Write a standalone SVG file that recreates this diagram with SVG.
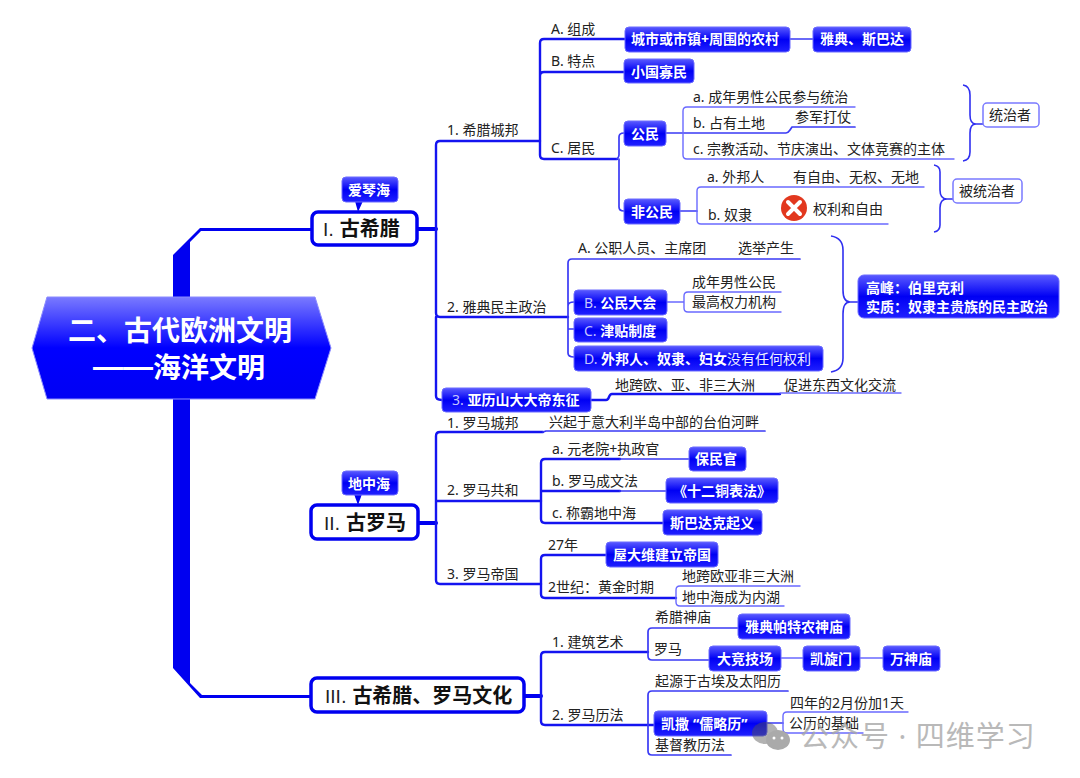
<svg xmlns="http://www.w3.org/2000/svg" width="1080" height="778" viewBox="0 0 1080 778">
<style>
text{font-family:"Noto Sans","Noto Sans CJK SC",sans-serif;font-size:14px;fill:#222}
.w{fill:#fff;font-weight:700}
.w .s{font-weight:400;fill:#c4c4ff}
.w .r{font-weight:400;fill:#eef}
.c{fill:url(#chip);stroke:#6a6aff;stroke-width:1}
.b{fill:#fff;stroke:#0000f0;stroke-width:3.5}
.o{fill:#fff;stroke:#7a7aff;stroke-width:1.5}
.h{font-size:20px;fill:#111;font-weight:700}
.h .s{font-family:"DejaVu Sans",sans-serif;font-weight:400;font-size:18px;fill:#222}
.tt{font-family:"Noto Sans CJK SC",sans-serif;font-size:28px;font-weight:700;fill:#fff}
.tt .d{font-family:"Liberation Sans",sans-serif;font-size:30px}
.l1,.l2,.l3,.l4{fill:none;stroke-linecap:round;stroke-linejoin:round}
.l1{stroke:#0000f0;stroke-width:4}
.l2{stroke:#1414f0;stroke-width:2.4}
.l3{stroke:#3a3af5;stroke-width:1.7}
.l4{stroke:#6a6aff;stroke-width:1.4}
.br{fill:none;stroke:#3030f0;stroke-width:1.6}
</style>
<defs>
<linearGradient id="chip" x1="0" y1="0" x2="0" y2="1"><stop offset="0" stop-color="#5a5aff"/><stop offset=".5" stop-color="#0000f4"/><stop offset="1" stop-color="#2020ff"/></linearGradient>
<linearGradient id="main" x1="0" y1="0" x2="0" y2="1"><stop offset="0" stop-color="#7a7aff"/><stop offset=".5" stop-color="#0000ff"/><stop offset="1" stop-color="#0000f4"/></linearGradient>
</defs>
<rect width="1080" height="778" fill="#fff"/>
<g id="connectors">
<path d="M173 255L200 228H313V231H201L190 242V683L202 695H313V698H200L173 668Z" fill="#0000f0"/>
<path class="l1" d="M417 229H436M418 523H436M524 696H541"/>
<path class="l2" d="M436 145Q436 141 440 141H540M436 145V313Q436 317 440 317H568M436 317V396Q436 400 442 400M436 436Q436 432 440 432H543M436 436V580Q436 584 440 584H541M436 501H541"/>
<path class="l3" d="M543 432L546 431H765"/>
<path class="l2" d="M540 43Q540 39 544 39H625M540 43V155Q540 159 544 159H617M540 76Q540 72 544 72H624"/>
<path class="l3" d="M790 39H813M617 159Q619 157 619 155V137Q619 133 624 133M619 159V207Q619 211 624 211"/>
<path class="l3" d="M666 133H786Q788 133 790 130L792 127H855"/>
<path class="l4" d="M683 133V111Q683 107 687 107H855M683 133V155Q683 159 687 159H954"/>
<path class="l3" d="M680 211H697"/>
<path class="l4" d="M697 211V191Q697 187 701 187H924M697 211V220Q697 224 701 224H888"/>
<path class="l3" d="M568 263Q568 259 572 259H800M568 263V353Q568 357 574 357M568 306Q568 302 574 302M568 329H574"/>
<path class="l4" d="M667 302H684M684 302V296Q684 292 688 292H781M684 302V308Q684 312 688 312H781"/>
<path class="l2" d="M591 400H606Q608 400 609 397Q610 394 612 394H780"/>
<path class="l4" d="M780 393H901"/>
<path class="l2" d="M541 501V463Q541 459 545 459H620M541 501V519Q541 523 545 523H664M541 491H620"/>
<path class="l3" d="M620 459H689M620 491H666"/>
<path class="l2" d="M541 584V559Q541 555 545 555H606M541 584V594Q541 598 545 598H676"/>
<path class="l4" d="M676 598V590Q676 586 680 586H800M676 598V602Q676 606 680 606H784"/>
<path class="l2" d="M541 696V656Q541 652 545 652H648M541 696V721Q541 725 545 725H654"/>
<path class="l3" d="M648 652V632Q648 628 652 628H739M648 652V656Q648 660 652 660H709M648 725V695Q648 691 652 691H788M648 725V751Q648 755 652 755H731"/>
<path class="l4" d="M781 658H803M860 658H883"/>
<path class="l3" d="M767 723H783"/>
<path class="l4" d="M783 723V716Q783 712 787 712H908M783 723V729Q783 733 787 733H863"/>
<path class="br" d="M963 85Q970 86 970 95V115Q970 124 976 124H983M976 124Q970 124 970 133V152Q970 160 963 161"/>
<path class="br" d="M934 165Q940 166 940 172V190Q940 199 947 199H953M947 199Q940 199 940 208V225Q940 231 934 232"/>
<path class="br" d="M831 236Q843 238 843 250V290Q843 302 850 302H858M850 302Q843 302 843 314V358Q843 370 831 372"/>
</g>
<g id="root"><polygon points="47,297 315,297 331,348 315,399 47,399 32,348" fill="url(#main)" stroke="#8a8aff" stroke-width="1"/><text class="tt" x="68" y="341">二、古代欧洲文明</text><text class="tt" x="93" y="378"><tspan class="d" dy="-1.5">——</tspan><tspan dy="1.5">海洋文明</tspan></text></g>
<g id="n1"><rect class="b" x="312" y="212" width="105" height="33" rx="6"/><text class="h" x="323" y="236"><tspan class="s">I. </tspan>古希腊</text></g>
<g id="n1note"><path d="M355 201L358 212L363 201Z" fill="#0000f0"/><rect class="c" x="342" y="177" width="56" height="25" rx="4"/><text class="w" x="348" y="195">爱琴海</text></g>
<g id="n2"><rect class="b" x="311" y="505" width="107" height="34" rx="6"/><text class="h" x="324" y="530"><tspan class="s">II. </tspan>古罗马</text></g>
<g id="n2note"><path d="M354 494L358 505L362 494Z" fill="#0000f0"/><rect class="c" x="342" y="471" width="56" height="24" rx="4"/><text class="w" x="348" y="489">地中海</text></g>
<g id="n3"><rect class="b" x="311" y="678" width="213" height="34" rx="6"/><text class="h" x="325" y="703"><tspan class="s">III. </tspan>古希腊、罗马文化</text></g>
<g id="labels">
<text x="447" y="135">1. 希腊城邦</text>
<text x="551" y="34">A. 组成</text>
<text x="551" y="66">B. 特点</text>
<text x="551" y="153">C. 居民</text>
<text x="693" y="102">a. 成年男性公民参与统治</text>
<text x="693" y="128">b. 占有土地</text>
<text x="795" y="122">参军打仗</text>
<text x="693" y="154">c. 宗教活动、节庆演出、文体竞赛的主体</text>
<text x="707" y="182">a. 外邦人</text>
<text x="793" y="182">有自由、无权、无地</text>
<text x="708" y="220">b. 奴隶</text>
<text x="813" y="214">权利和自由</text>
<text x="447" y="312">2. 雅典民主政治</text>
<text x="578" y="253">A. 公职人员、主席团</text>
<text x="738" y="253">选举产生</text>
<text x="692" y="287">成年男性公民</text>
<text x="692" y="307">最高权力机构</text>
<text x="615" y="390">地跨欧、亚、非三大洲</text>
<text x="784" y="390">促进东西文化交流</text>
<text x="447" y="428">1. 罗马城邦</text>
<text x="549" y="427">兴起于意大利半岛中部的台伯河畔</text>
<text x="447" y="495">2. 罗马共和</text>
<text x="552" y="454">a. 元老院+执政官</text>
<text x="552" y="486">b. 罗马成文法</text>
<text x="552" y="518">c. 称霸地中海</text>
<text x="447" y="579">3. 罗马帝国</text>
<text x="548" y="550">27年</text>
<text x="548" y="592">2世纪：黄金时期</text>
<text x="682" y="581">地跨欧亚非三大洲</text>
<text x="682" y="602">地中海成为内湖</text>
<text x="552" y="647">1. 建筑艺术</text>
<text x="655" y="622">希腊神庙</text>
<text x="654" y="654">罗马</text>
<text x="552" y="720">2. 罗马历法</text>
<text x="655" y="686">起源于古埃及太阳历</text>
<text x="790" y="708">四年的2月份加1天</text>
<text x="789" y="728">公历的基础</text>
<text x="655" y="750">基督教历法</text>
</g>
<g id="chips">
<g id="c01"><rect class="c" x="625" y="27" width="165" height="25" rx="4"/><text class="w" x="631" y="44">城市或市镇+周围的农村</text></g>
<g id="c02"><rect class="c" x="813" y="27" width="98" height="25" rx="4"/><text class="w" x="820" y="44">雅典、斯巴达</text></g>
<g id="c03"><rect class="c" x="624" y="59" width="70" height="24" rx="4"/><text class="w" x="631" y="77">小国寡民</text></g>
<g id="c04"><rect class="c" x="624" y="121" width="42" height="25" rx="4"/><text class="w" x="631" y="139">公民</text></g>
<g id="c05"><rect class="c" x="624" y="199" width="56" height="25" rx="4"/><text class="w" x="631" y="217">非公民</text></g>
<g id="c06"><rect class="c" x="574" y="290" width="93" height="25" rx="4"/><text class="w" x="584" y="308"><tspan class="s">B. </tspan>公民大会</text></g>
<g id="c07"><rect class="c" x="574" y="318" width="93" height="24" rx="4"/><text class="w" x="584" y="336"><tspan class="s">C. </tspan>津贴制度</text></g>
<g id="c08"><rect class="c" x="574" y="346" width="249" height="25" rx="4"/><text class="w" x="584" y="364"><tspan class="s">D. </tspan>外邦人、奴隶、妇女<tspan class="r">没有任何权利</tspan></text></g>
<g id="c09"><rect class="c" x="858" y="275" width="201" height="43" rx="6"/><text class="w" x="866" y="293">高峰：伯里克利</text><text class="w" x="866" y="312">实质：奴隶主贵族的民主政治</text></g>
<g id="c10"><rect class="c" x="442" y="388" width="149" height="24" rx="4"/><text class="w" x="452" y="405"><tspan class="s">3. </tspan>亚历山大大帝东征</text></g>
<g id="c11"><rect class="c" x="689" y="447" width="57" height="24" rx="4"/><text class="w" x="695" y="464">保民官</text></g>
<g id="c12"><rect class="c" x="666" y="478" width="112" height="25" rx="4"/><text class="w" x="722" y="496" text-anchor="middle" style="font-family:'Noto Sans CJK SC',sans-serif">《十二铜表法》</text></g>
<g id="c13"><rect class="c" x="663" y="510" width="99" height="25" rx="4"/><text class="w" x="670" y="528">斯巴达克起义</text></g>
<g id="c14"><rect class="c" x="606" y="542" width="112" height="25" rx="4"/><text class="w" x="613" y="560">屋大维建立帝国</text></g>
<g id="c15"><rect class="c" x="738" y="614" width="112" height="25" rx="4"/><text class="w" x="745" y="632">雅典帕特农神庙</text></g>
<g id="c16"><rect class="c" x="709" y="646" width="72" height="25" rx="4"/><text class="w" x="717" y="664">大竞技场</text></g>
<g id="c17"><rect class="c" x="803" y="646" width="57" height="25" rx="4"/><text class="w" x="810" y="664">凯旋门</text></g>
<g id="c18"><rect class="c" x="883" y="646" width="57" height="25" rx="4"/><text class="w" x="890" y="664">万神庙</text></g>
<g id="c19"><rect class="c" x="654" y="711" width="113" height="25" rx="4"/><text class="w" x="661" y="729">凯撒<tspan dx="4">“儒略历”</tspan></text></g>
</g>
<g id="o1"><rect class="o" x="983" y="103" width="56" height="24" rx="4"/><text x="989" y="120">统治者</text></g>
<g id="o2"><rect class="o" x="953" y="179" width="69" height="24" rx="4"/><text x="959" y="196">被统治者</text></g>
<g id="iconx"><circle cx="794" cy="208" r="13" fill="#e2381f"/><path d="M788 202L800 214M800 202L788 214" stroke="#fff" stroke-width="4" stroke-linecap="round"/></g>
<g id="watermark">
<ellipse cx="765" cy="733" rx="13" ry="11" fill="#555" opacity=".45"/>
<ellipse cx="778" cy="740" rx="12" ry="10" fill="#aaa"/>
<circle cx="774" cy="738" r="1.5" fill="#fff"/><circle cx="782" cy="738" r="1.5" fill="#fff"/>
<text x="800" y="747" style="font-size:29px;fill:#a8a8a8;letter-spacing:1px" opacity=".8">公众号 · 四维学习</text>
</g>
</svg>
